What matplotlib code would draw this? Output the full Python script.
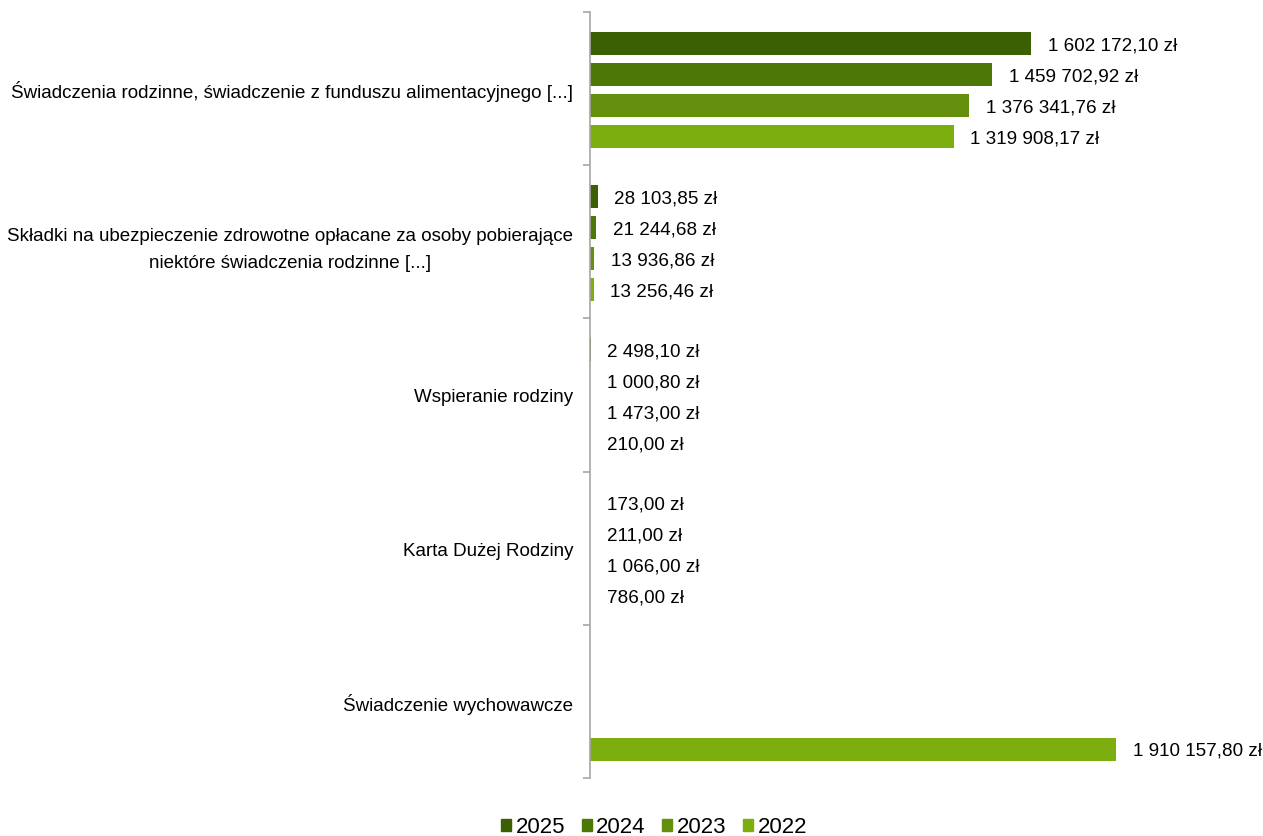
import matplotlib
matplotlib.use("Agg")
import matplotlib.pyplot as plt
import numpy as np

plt.rcParams['font.family'] = ['Liberation Sans', 'DejaVu Sans']

categories = [
    "Świadczenia rodzinne, świadczenie z funduszu alimentacyjnego [...]",
    "Składki na ubezpieczenie zdrowotne opłacane za osoby pobierające\nniektóre świadczenia rodzinne [...]",
    "Wspieranie rodziny",
    "Karta Dużej Rodziny",
    "Świadczenie wychowawcze",
]
years = ["2025", "2024", "2023", "2022"]
values_2025 = [1602172.10, 28103.85, 2498.10, 173.00, None]
values_2024 = [1459702.92, 21244.68, 1000.80, 211.00, None]
values_2023 = [1376341.76, 13936.86, 1473.00, 1066.00, None]
values_2022 = [1319908.17, 13256.46, 210.00, 786.00, 1910157.80]
series = [values_2025, values_2024, values_2023, values_2022]
colors = ["#3B6004", "#4D7807", "#648F0D", "#7DAE10"]


def fmt(v):
    s = f"{v:,.2f}"
    ip, dp = s.split(".")
    return ip.replace(",", " ") + "," + dp + " zł"


fig = plt.figure(figsize=(12.63, 8.37), dpi=100)
ax = fig.add_axes([590 / 1263, 1 - 779 / 837, 551 / 1263, (779 - 13) / 837])

slot = 31 / 153
bh = 23 / 153
y = np.arange(len(categories))
for j, (vals, col, yr) in enumerate(zip(series, colors, years)):
    for i, v in enumerate(vals):
        if v is None:
            continue
        yy = y[i] + (j - 1.5) * slot + 0.009
        ax.barh(yy, v, height=bh, color=col, label=yr if i == 0 else None)
        ax.annotate(fmt(v), xy=(v, yy), xytext=(12, -0.8), textcoords="offset points",
                    ha="left", va="center", fontsize=13.6, color="#000000")

ax.set_xlim(0, 2000000)
ax.set_ylim(len(categories) - 0.5, -0.5)
for s in ["top", "right", "bottom"]:
    ax.spines[s].set_visible(False)
ax.spines["left"].set_color("#A6A6A6")
ax.spines["left"].set_linewidth(1.2)
ax.set_xticks([])
ax.set_yticks(y)
ax.set_yticklabels(categories, fontsize=13.5, multialignment="center", linespacing=1.75)
ax.tick_params(axis="y", which="major", length=0, pad=12)
ax.set_yticks(np.arange(-0.5, len(categories)), minor=True)
ax.tick_params(axis="y", which="minor", length=5, color="#A6A6A6", width=1.2, direction="out")

handles = [plt.Rectangle((0, 0), 1, 1, color=c) for c in colors]
fig.legend(handles, years, loc="center", bbox_to_anchor=(654 / 1263, 1 - 828 / 837),
           ncol=4, frameon=False, fontsize=16, handlelength=0.45, handleheight=0.45,
           handletextpad=0.2, columnspacing=0.75)

fig.savefig("out.png", dpi=100)
